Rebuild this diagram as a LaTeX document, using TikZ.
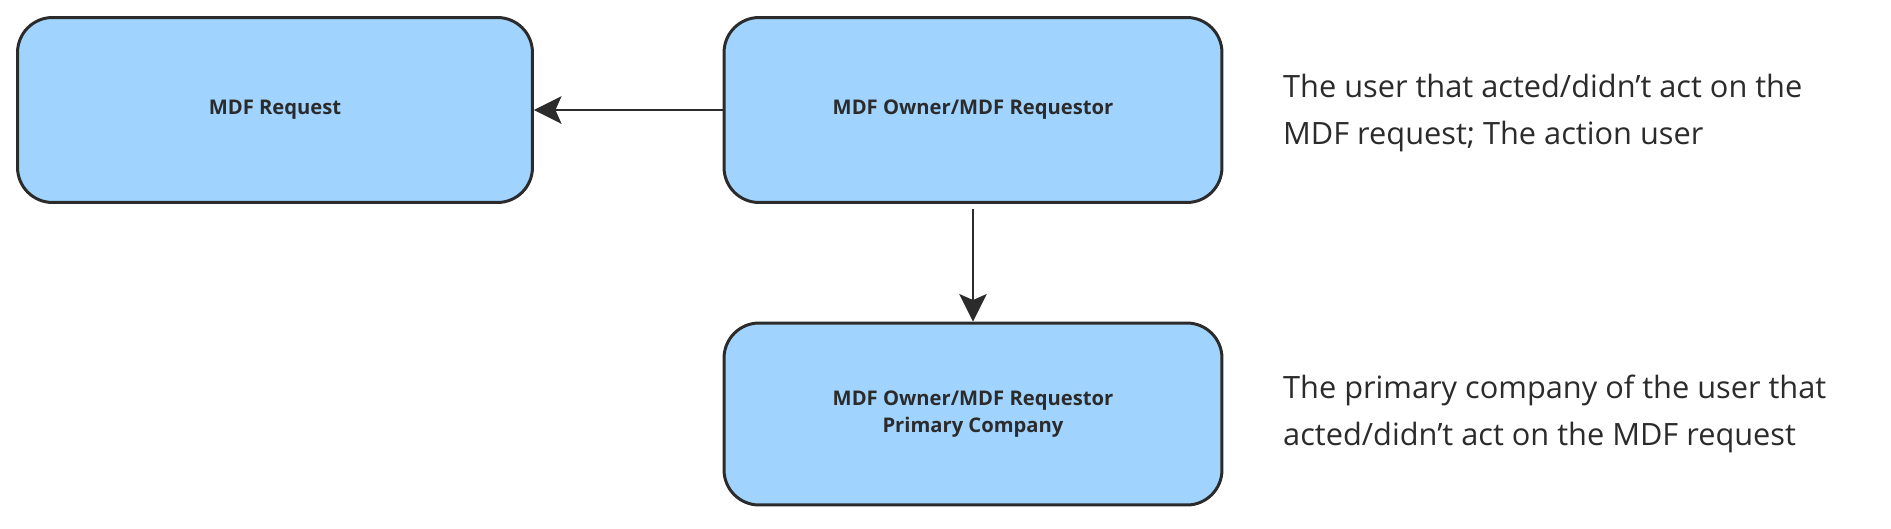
\documentclass[tikz,border=0pt]{standalone}
\usepackage{fontspec}
\setmainfont{Open Sans}
\usetikzlibrary{arrows.meta}
\definecolor{boxblue}{HTML}{A0D4FF}
\definecolor{lineblack}{HTML}{2B2B2B}
\tikzset{
	entity/.style={draw=lineblack, line width=1.7pt, fill=boxblue, rounded corners=0.7cm,
		align=center, font=\fontsize{11.5}{15}\selectfont\bfseries, text=lineblack},
	note/.style={anchor=west, align=left, font=\fontsize{17.5}{27}\selectfont, text=lineblack},
	link/.style={draw=lineblack, line width=1.5pt, -{Stealth[length=0.55cm,width=0.55cm,inset=0.12cm]}}
}
\begin{document}
\begin{tikzpicture}[x=0.02cm,y=-0.02cm]
	\useasboundingbox (0,0) rectangle (1891,528);
	\node[entity, minimum width=10.3cm, minimum height=3.7cm] (request) at (275,110) {MDF Request};
	\node[entity, minimum width=9.96cm, minimum height=3.7cm] (owner) at (973,110) {MDF Owner/MDF Requestor};
	\node[entity, minimum width=9.96cm, minimum height=3.64cm] (company) at (973,414) {MDF Owner/MDF Requestor\\Primary Company};

	\node[note] (ownernote) at (1277,113) {The user that acted/didn't act on the\\MDF request; The action user};
	\node[note] (companynote) at (1277,414) {The primary company of the user that\\acted/didn't act on the MDF request};

	\draw[link] (owner.west) -- (request.east);
	\coordinate (ownerbelow) at ([yshift=-0.1cm]owner.south);
	\draw[link] (ownerbelow) -- (company.north);
\end{tikzpicture}
\end{document}
